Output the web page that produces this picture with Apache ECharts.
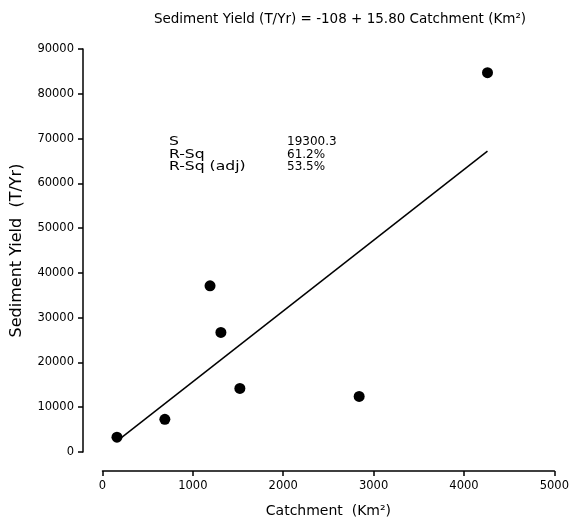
<!DOCTYPE html>
<html><head><meta charset="utf-8">
<script src="https://cdn.jsdelivr.net/npm/echarts@6/dist/echarts.min.js"></script>
<style>html,body{margin:0;padding:0;background:#fff}#c{width:572px;height:523px}</style>
</head><body><div id="c"></div>
<script>
const catchment = [160, 690, 1190, 1310, 1520, 2840, 4260];
const sedimentYield = [3300, 7300, 37100, 26700, 14200, 12400, 84700];
const fitIntercept = -108;
const fitSlope = 15.80;
const xTicks = [0, 1000, 2000, 3000, 4000, 5000];
const yTicks = [0, 10000, 20000, 30000, 40000, 50000, 60000, 70000, 80000, 90000];
const statLabels = ['S', 'R-Sq', 'R-Sq (adj)'];
const statValues = ['19300.3', '61.2%', '53.5%'];
const titleText = 'Sediment Yield (T/Yr) = -108 + 15.80 Catchment (Km\u00b2)';

const xMin = Math.min(...catchment), xMax = Math.max(...catchment);
const fitLine = [[xMin, fitIntercept + fitSlope * xMin], [xMax, fitIntercept + fitSlope * xMax]];
const pts = catchment.map((x, i) => [x, sedimentYield[i]]);
const FONT = 'DejaVu Sans';

const chart = echarts.init(document.getElementById('c'), null, {renderer: 'canvas'});
chart.setOption({
  animation: false,
  backgroundColor: '#fff',
  title: {text: titleText, left: 335, top: 7, textAlign: 'center',
    textStyle: {fontFamily: FONT, fontSize: 13.5, fontWeight: 'normal', color: '#000'}},
  grid: {left: 102.5, right: 15.5, top: 49, bottom: 70, containLabel: false},
  xAxis: {type: 'value', min: xTicks[0], max: xTicks[xTicks.length-1], interval: 1000,
    offset: 19,
    name: 'Catchment  (Km\u00b2)', nameLocation: 'middle', nameGap: 33,
    nameTextStyle: {fontFamily: FONT, fontSize: 14, color: '#000'},
    axisLine: {onZero: false, lineStyle: {color: '#000', width: 1.5}},
    axisTick: {length: 5, lineStyle: {color: '#000', width: 1.5}},
    axisLabel: {fontFamily: FONT, fontSize: 11.5, color: '#000', margin: 9, formatter: v => String(v)},
    splitLine: {show: false}},
  yAxis: {type: 'value', min: yTicks[0], max: yTicks[yTicks.length-1], interval: 10000,
    offset: 19.5,
    name: 'Sediment Yield  (T/Yr)', nameLocation: 'middle', nameGap: 58,
    nameTextStyle: {fontFamily: FONT, fontSize: 16, color: '#000'},
    axisLine: {show: true, onZero: false, lineStyle: {color: '#000', width: 1.5}},
    axisTick: {show: true, length: 5, lineStyle: {color: '#000', width: 1.5}},
    axisLabel: {fontFamily: FONT, fontSize: 11.5, color: '#000', margin: 9, formatter: v => String(v)},
    splitLine: {show: false}},
  graphic: [
    {type: 'text', left: 169, top: 136, scaleX: 1.3, style: {text: statLabels.join('\n'), font: '12px "DejaVu Sans"', fill: '#000', lineHeight: 12.5}},
    {type: 'text', left: 287, top: 136, style: {text: statValues.join('\n'), font: '12px "DejaVu Sans"', fill: '#000', lineHeight: 12.5}}
  ],
  series: [
    {type: 'line', data: fitLine, symbol: 'none', lineStyle: {color: '#000', width: 1.5}, z: 2},
    {type: 'scatter', data: pts, symbol: 'circle', symbolSize: 11, itemStyle: {color: '#000', opacity: 1}, z: 3}
  ]
});
</script></body></html>
